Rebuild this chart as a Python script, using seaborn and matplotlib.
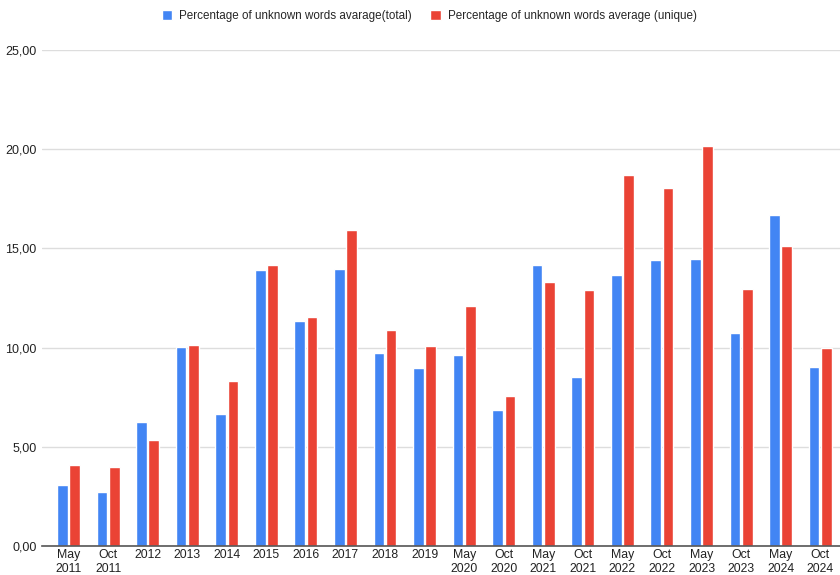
import matplotlib
matplotlib.use("Agg")
import matplotlib.pyplot as plt
from matplotlib.ticker import FuncFormatter
import seaborn as sns
import pandas as pd

categories = ["May\n2011", "Oct\n2011", "2012", "2013", "2014", "2015", "2016",
              "2017", "2018", "2019", "May\n2020", "Oct\n2020", "May\n2021",
              "Oct\n2021", "May\n2022", "Oct\n2022", "May\n2023", "Oct\n2023",
              "May\n2024", "Oct\n2024"]
total_pct = [3.07, 2.70, 6.27, 10.02, 6.63, 13.93, 11.32, 13.98, 9.75, 8.95,
             9.65, 6.83, 14.15, 8.52, 13.66, 14.44, 14.49, 10.74, 16.66, 9.01]
unique_pct = [4.06, 3.96, 5.35, 10.13, 8.31, 14.15, 11.52, 15.92, 10.91, 10.10,
              12.12, 7.57, 13.29, 12.90, 18.72, 18.04, 20.17, 12.95, 15.13, 10.00]
series_names = ["Percentage of unknown words avarage(total)",
                "Percentage of unknown words average (unique)"]
y_ticks = [0, 5, 10, 15, 20, 25]

df = pd.DataFrame({
    "period": categories * 2,
    "value": total_pct + unique_pct,
    "series": [series_names[0]] * len(categories) + [series_names[1]] * len(categories),
})

sns.set_style("white")
plt.rcParams["font.family"] = ["Liberation Sans", "DejaVu Sans"]

fig = plt.figure(figsize=(8.4, 5.75), dpi=100)
ax = fig.add_axes([42 / 840, 1 - 546 / 575, 798 / 840, 496 / 575])

sns.barplot(data=df, x="period", y="value", hue="series", order=categories,
            hue_order=series_names, palette=["#4285F4", "#EA4335"],
            saturation=1, width=0.62, gap=0.13, ax=ax, legend=True, zorder=3)

ax.set_ylim(0, 25)
ax.set_xlim(-0.67, 19.5)
ax.set_yticks(y_ticks)
ax.yaxis.set_major_formatter(FuncFormatter(lambda v, _: f"{v:.2f}".replace(".", ",")))
ax.grid(axis="y", color="#dddddd", linewidth=1, zorder=0)
ax.set_axisbelow(True)
for side in ["top", "right", "left"]:
    ax.spines[side].set_visible(False)
ax.spines["bottom"].set_color("#555555")
ax.spines["bottom"].set_linewidth(1.2)
ax.spines["bottom"].set_zorder(4)
ax.tick_params(axis="both", length=0, labelsize=9, colors="#222222")
ax.tick_params(axis="y", pad=4)
ax.tick_params(axis="x", pad=2.5)
for lbl in ax.get_xticklabels():
    lbl.set_linespacing(1.15)
    lbl.set_fontsize(8.8)
ax.set_xlabel("")
ax.set_ylabel("")

handles, labels = ax.get_legend_handles_labels()
ax.legend(handles, labels, loc="center", bbox_to_anchor=(0.511, 1 - 16 / 575),
          bbox_transform=fig.transFigure, ncol=2, frameon=False, fontsize=8.4,
          handlelength=0.9, handleheight=0.9, handletextpad=0.6, columnspacing=1.6)

fig.savefig("out.png", dpi=100)
